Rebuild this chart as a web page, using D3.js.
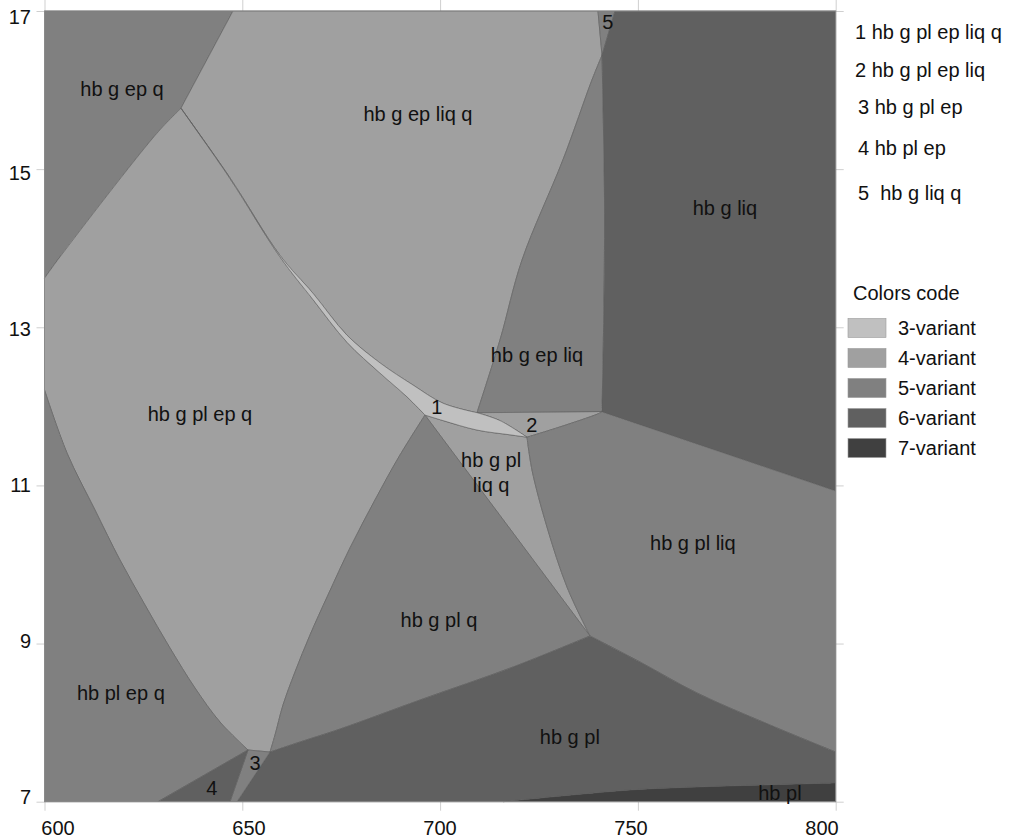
<!DOCTYPE html>
<html>
<head>
<meta charset="utf-8">
<script src="https://cdn.jsdelivr.net/npm/d3@7"></script>
<style>
  body { margin: 0; background: #fff; }
  text { font-family: "Liberation Sans", Arial, sans-serif; }
</style>
</head>
<body>
<div id="chart"></div>
<script>
const width = 1015;
const height = 839;

// axis ticks (temperature, pressure)
const xTicks = [600, 650, 700, 750, 800];
const yTicks = [7, 9, 11, 13, 15, 17];

// key nodes of the diagram [T, P]
const A = [634.5, 15.77];
const B = [696.18, 11.89];
const C = [657.0, 7.628];
const D = [651.44, 7.654];
const E = [737.89, 9.096];
const F = [740.93, 11.93];
const G = [709.33, 11.92];
const H = [721.97, 11.61];
const I = [740.93, 16.44];

// boundary curves
const epqLeft = [A, [628.36, 15.45], [603.92, 13.89], [600, 13.62]];
const lensUpper = [A, [646.89, 14.89], [659.53, 13.91], [667.87, 13.43], [676.47, 12.90],
  [684.81, 12.55], [693.15, 12.27], [700.73, 12.04], G];
const lensTip = [G, [715.14, 11.82], H];
const lensLowerAB = [A, [646.89, 14.88], [659.53, 13.89], [667.87, 13.35], [676.47, 12.81],
  [684.81, 12.42], [691.63, 12.12], B];
const lensLowerBH = [B, [700.73, 11.82], [709.33, 11.70], [717.67, 11.64], H];
const twoTop = [G, F];
const twoBottom = [H, [730.31, 11.74], [739.66, 11.90], F];
const epLiqLeft = [G, [715.14, 12.84], [720.70, 13.85], [731.07, 15.12], [738.40, 16.13], I];
const liqLeft = [I, [741.56, 14.61], [741.43, 13.35], F];
const liqBottom = [F, [800, 10.93]];
const plqLeft = [B, [689.86, 11.385], [683.54, 10.816], [677.22, 10.209], [671.66, 9.614],
  [667.11, 9.108], [663.32, 8.640], [660.29, 8.223], [658.27, 7.844], C];
const plqBottom = [C, [664.59, 7.755], [674.70, 7.919], [694.92, 8.286], [718.43, 8.703], E];
const liqqRight = [H, [723.23, 11.195], [727.02, 10.474], [732.08, 9.715], E];
const plLiqBottom = [E, [750.53, 8.767], [764.94, 8.375], [783.39, 7.970], [800, 7.628]];
const hbplTop = [[715.90, 7], [748.00, 7.148], [764.94, 7.186], [800, 7.237]];
const epqLower = [D, [644.36, 8.008], [638.04, 8.438], [631.72, 8.944], [625.40, 9.488],
  [619.08, 10.057], [612.77, 10.689], [605.69, 11.410], [600, 12.207]];

const rev = a => a.slice().reverse();
const edge = (...pts) => ({ pts, straight: true });

// fields: variance and outline built from the boundaries
const fields = [
  { v: 5, parts: [edge([600, 17], [647.65, 17], A), epqLeft] },
  { v: 4, parts: [edge([647.65, 17], [739.91, 17], I), rev(epLiqLeft), rev(lensUpper), edge(A, [647.65, 17])] },
  { v: 4, parts: [lensLowerAB, plqLeft, edge(C, D), epqLower, edge([600, 12.207], [600, 13.62]), rev(epqLeft)] },
  { v: 5, parts: [epLiqLeft, liqLeft, rev(twoTop)] },
  { v: 5, parts: [edge([739.91, 17], [744.21, 17], I)] },
  { v: 6, parts: [edge([744.21, 17], [800, 17], [800, 10.93]), rev(liqBottom), rev(liqLeft), edge(I, [744.21, 17])] },
  { v: 4, parts: [twoTop, rev(twoBottom), rev(lensTip)] },
  { v: 4, parts: [lensLowerBH, liqqRight, edge(E, B)] },
  { v: 5, parts: [twoBottom, liqBottom, edge([800, 10.93], [800, 7.628]), rev(plLiqBottom), rev(liqqRight)] },
  { v: 5, parts: [edge(B, E), rev(plqBottom), rev(plqLeft)] },
  { v: 6, parts: [plqBottom, plLiqBottom, edge([800, 7.628], [800, 7.237]), rev(hbplTop), edge([715.9, 7], [648.66, 7], C)] },
  { v: 7, parts: [hbplTop, edge([800, 7.237], [800, 7], [715.9, 7])] },
  { v: 5, parts: [epqLower, edge([600, 12.207], [600, 7], [628.69, 7], D)] },
  { v: 5, parts: [edge(D, C, [648.66, 7], [646.89, 7])] },
  { v: 6, parts: [edge([628.69, 7], D, [646.89, 7])] },
  { v: 3, parts: [lensUpper, lensTip, rev(lensLowerBH), rev(lensLowerAB)] }
];

const fieldLabels = [
  { t: "hb g ep q", p: [619.6, 16.01] },
  { t: "hb g ep liq q", p: [694.4, 15.70] },
  { t: "hb g liq", p: [772.0, 14.51] },
  { t: "hb g ep liq", p: [724.5, 12.65] },
  { t: "hb g pl ep q", p: [639.3, 11.90] },
  { t: "1", p: [699.2, 11.99] },
  { t: "2", p: [723.2, 11.76] },
  { t: "hb g pl", p: [712.9, 11.32] },
  { t: "liq q", p: [712.9, 11.00] },
  { t: "hb g pl liq", p: [763.9, 10.27] },
  { t: "hb g pl q", p: [699.7, 9.30] },
  { t: "hb pl ep q", p: [619.3, 8.38] },
  { t: "3", p: [653.2, 7.49] },
  { t: "4", p: [642.3, 7.17] },
  { t: "hb g pl", p: [732.8, 7.82] },
  { t: "hb pl", p: [785.9, 7.11] },
  { t: "5", p: [742.4, 16.86] }
];

const smallFields = ["1 hb g pl ep liq q", "2 hb g pl ep liq", "3 hb g pl ep", "4 hb pl ep", "5  hb g liq q"];
const variants = [3, 4, 5, 6, 7];
const variantColors = ["#c0c0c0", "#a0a0a0", "#808080", "#606060", "#404040"];

const svg = d3.select("#chart").append("svg")
  .attr("width", width)
  .attr("height", height);

svg.append("rect").attr("width", width).attr("height", height).attr("fill", "#fff");

const x = d3.scaleLinear().domain([600, 800]).range([44.5, 835.7]);
const y = d3.scaleLinear().domain([7, 17]).range([801.7, 11]);
// tick labels sit on a slightly tighter spacing than the ticks
const xLab = d3.scaleLinear().domain([600, 800]).range([58, 822]);
const yLab = d3.scaleLinear().domain([7, 17]).range([796.7, 16.7]);
const color = d3.scaleOrdinal().domain(variants).range(variantColors);

// ticks on all four sides
const tickStyle = g => {
  g.select(".domain").remove();
  g.selectAll(".tick line").attr("stroke", "#cfcfcf");
  g.selectAll(".tick text").remove();
};
svg.append("g").attr("transform", `translate(0,${y(7)})`)
  .call(d3.axisBottom(x).tickValues(xTicks).tickSize(9)).call(tickStyle);
svg.append("g").attr("transform", `translate(0,${y(17)})`)
  .call(d3.axisTop(x).tickValues(xTicks).tickSize(11)).call(tickStyle);
svg.append("g").attr("transform", `translate(${x(600)},0)`)
  .call(d3.axisLeft(y).tickValues(yTicks).tickSize(8)).call(tickStyle);
svg.append("g").attr("transform", `translate(${x(800)},0)`)
  .call(d3.axisRight(y).tickValues(yTicks).tickSize(8)).call(tickStyle);

const curved = d3.line().x(d => x(d[0])).y(d => y(d[1])).curve(d3.curveCatmullRom.alpha(0.5));
const straight = d3.line().x(d => x(d[0])).y(d => y(d[1]));

function outline(parts) {
  return parts.map((p, i) => {
    const s = p.straight ? straight(p.pts) : curved(p);
    return i === 0 ? s : "L" + s.slice(1);
  }).join("") + "Z";
}

svg.append("g").selectAll("path")
  .data(fields)
  .enter().append("path")
  .attr("d", d => outline(d.parts))
  .attr("fill", d => color(d.v))
  .attr("stroke", "#5c5c5c")
  .attr("stroke-width", 0.6)
  .attr("stroke-linejoin", "round");

svg.append("rect")
  .attr("x", x(600)).attr("y", y(17))
  .attr("width", x(800) - x(600)).attr("height", y(7) - y(17))
  .attr("fill", "none").attr("stroke", "#8a8a8a").attr("stroke-width", 1);

svg.append("g").selectAll("text")
  .data(fieldLabels)
  .enter().append("text")
  .attr("x", d => x(d.p[0]))
  .attr("y", d => y(d.p[1]))
  .attr("dy", "0.35em")
  .attr("text-anchor", "middle")
  .style("font-size", "20px")
  .style("fill", "#111")
  .text(d => d.t);

// tick labels
svg.append("g").selectAll("text")
  .data(xTicks)
  .enter().append("text")
  .attr("x", d => xLab(d))
  .attr("y", 828)
  .attr("dy", "0.35em")
  .attr("text-anchor", "middle")
  .style("font-size", "20px")
  .style("fill", "#111")
  .text(d => d);

svg.append("g").selectAll("text")
  .data(yTicks)
  .enter().append("text")
  .attr("x", 31)
  .attr("y", d => yLab(d))
  .attr("dy", "0.35em")
  .attr("text-anchor", "end")
  .style("font-size", "20px")
  .style("fill", "#111")
  .text(d => d);

// numbered small fields
const smallY = [31.7, 70, 107, 148, 193];
svg.append("g").selectAll("text")
  .data(smallFields)
  .enter().append("text")
  .attr("x", (d, i) => i < 2 ? 855 : 858)
  .attr("y", (d, i) => smallY[i])
  .attr("dy", "0.35em")
  .attr("xml:space", "preserve")
  .style("white-space", "pre")
  .style("font-size", "20px")
  .style("fill", "#111")
  .text(d => d);

// colour legend
const legend = svg.append("g");
legend.append("text")
  .attr("x", 853).attr("y", 292.5).attr("dy", "0.35em")
  .style("font-size", "20px").style("fill", "#111")
  .text("Colors code");

const item = legend.selectAll(".item")
  .data(variants)
  .enter().append("g")
  .attr("class", "item")
  .attr("transform", (d, i) => `translate(848,${318.5 + i * 30})`);

item.append("rect")
  .attr("width", 38).attr("height", 19)
  .attr("fill", d => color(d))
  .attr("stroke", "#9a9a9a").attr("stroke-width", 0.6);

item.append("text")
  .attr("x", 50).attr("y", 9.5).attr("dy", "0.35em")
  .style("font-size", "20px").style("fill", "#111")
  .text(d => d + "-variant");
</script>
</body>
</html>
